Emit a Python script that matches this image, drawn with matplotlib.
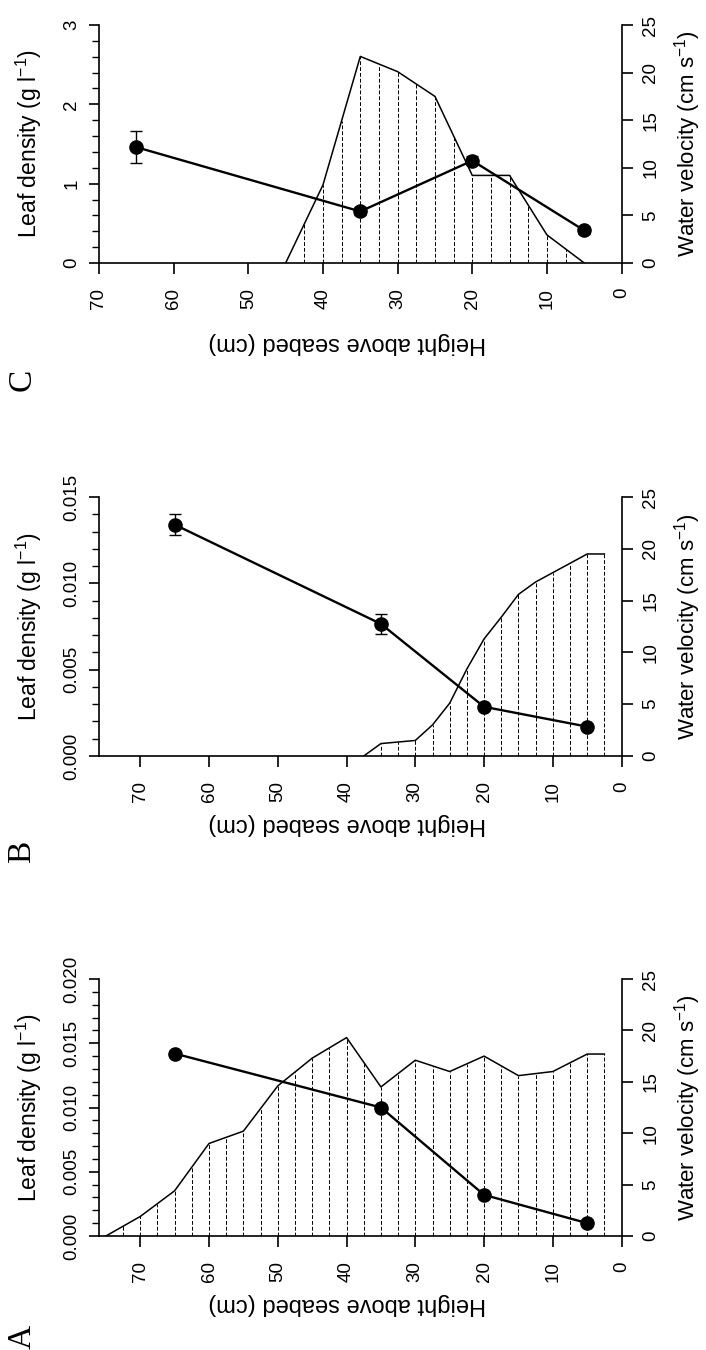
import numpy as np
import matplotlib
matplotlib.use("Agg")
import matplotlib.pyplot as plt
from matplotlib.ticker import MultipleLocator, FormatStrFormatter

plt.rcParams["font.family"] = ["Liberation Sans", "DejaVu Sans"]
plt.rcParams["mathtext.default"] = "regular"

# heights where leaf density was sampled (cm above seabed)
leaf_height = [65, 35, 20, 5]

# panel A
a_leaf = [0.0142, 0.0100, 0.0032, 0.0010]
a_leaf_err = [0.0002, 0.0002, 0.0001, 0.0001]
a_vel_height = [75, 70, 65, 60, 55, 50, 45, 40, 35, 30, 25, 20, 15, 10, 5, 2.5]
a_vel = [0, 1.9, 4.4, 9.0, 10.2, 14.6, 17.3, 19.3, 14.5, 17.1, 16.0, 17.5, 15.6, 16.0, 17.7, 17.7]

# panel B
b_leaf = [0.0134, 0.00765, 0.00285, 0.0017]
b_leaf_err = [0.0006, 0.0006, 0.0001, 0.0001]
b_vel_height = [37.5, 35, 32.5, 30, 27.5, 25, 22.5, 20, 17.5, 15, 12.5, 10, 7.5, 5, 2.5]
b_vel = [0, 1.2, 1.35, 1.5, 3.0, 5.1, 8.4, 11.3, 13.4, 15.6, 16.8, 17.7, 18.6, 19.5, 19.5]

# panel C
c_leaf = [1.46, 0.65, 1.29, 0.41]
c_leaf_err = [0.2, 0.05, 0.06, 0.04]
c_vel_height = [45, 40, 35, 30, 25, 20, 15, 10, 5]
c_vel = [0, 8.2, 21.7, 20.1, 17.5, 9.2, 9.2, 2.95, 0]

# positions of the dashed hatch lines under the velocity profile
hatch_height = np.arange(2.5, 75, 2.5)

fig = plt.figure(figsize=(7.06, 13.5), dpi=100)


def draw_panel(rect, xmax, leaf, leaf_err, leaf_top, major, minor, fmt,
               vel_h, vel, xlab_y, letter, letter_y):
    ax = fig.add_axes(rect)
    vx = ax.twinx()
    ax.set_zorder(vx.get_zorder() + 1)
    ax.patch.set_visible(False)

    # velocity profile with dashed hatching
    vx.plot(vel_h, vel, color="black", lw=1.1)
    tops = np.interp(hatch_height, vel_h[::-1], vel[::-1], left=0, right=0)
    keep = tops > 0
    vx.vlines(hatch_height[keep], 0, tops[keep], colors="black",
              linestyles=(0, (4, 2)), lw=0.7)
    vx.set_ylim(0, 25)
    vx.yaxis.set_major_locator(MultipleLocator(5))

    # leaf density
    ax.errorbar(leaf_height, leaf, yerr=leaf_err, fmt="-o", color="black",
                ms=9.5, lw=1.7, capsize=4, elinewidth=1, capthick=1)
    ax.set_xlim(xmax, 0)
    ax.set_ylim(0, leaf_top)
    ax.xaxis.set_major_locator(MultipleLocator(10))
    ax.yaxis.set_major_locator(MultipleLocator(major))
    ax.yaxis.set_minor_locator(MultipleLocator(minor))
    ax.yaxis.set_major_formatter(FormatStrFormatter(fmt))

    for s in ["top", "right"]:
        ax.spines[s].set_visible(False)
    for s in ["top", "left", "bottom"]:
        vx.spines[s].set_visible(False)
    for sp in [ax.spines["left"], ax.spines["bottom"], vx.spines["right"]]:
        sp.set_linewidth(1.2)

    ax.tick_params(axis="x", length=8, width=1.2, pad=10, labelsize=13.5, labelrotation=90)
    ax.tick_params(axis="y", which="major", length=7.5, width=1.2, pad=6,
                   labelsize=13.5, labelrotation=90)
    ax.tick_params(axis="y", which="minor", length=5, width=1.0)
    vx.tick_params(axis="y", length=8, width=1.2, pad=7, labelsize=13.5, labelrotation=90)
    for t in ax.get_yticklabels() + vx.get_yticklabels():
        t.set_verticalalignment("center")

    ax.set_xlabel("Height above seabed (cm)", fontsize=17, rotation=180)
    ax.xaxis.set_label_coords(0.475, xlab_y)
    ax.set_ylabel("Leaf density (g l$^{-1}$)", fontsize=16.5)
    ax.yaxis.set_label_coords(-0.106, 0.5)
    vx.set_ylabel("Water velocity (cm s$^{-1}$)", fontsize=16)
    vx.yaxis.set_label_coords(1.096, 0.5)

    fig.text(0.031, letter_y, letter, family="Liberation Serif", fontsize=24,
             rotation=90, ha="center", va="center")


left = 99 / 706
width = 522.6 / 706
draw_panel([left, 1 - 263 / 1350, width, 238 / 1350], 70, c_leaf, c_leaf_err, 3, 1, 0.2, "%d",
           c_vel_height, c_vel, -0.29, "C", 1 - 380 / 1350)
draw_panel([left, 1 - 756 / 1350, width, 259 / 1350], 76, b_leaf, b_leaf_err, 0.015, 0.005, 0.001, "%.3f",
           b_vel_height, b_vel, -0.22, "B", 1 - 852 / 1350)
draw_panel([left, 1 - 1236 / 1350, width, 257 / 1350], 76, a_leaf, a_leaf_err, 0.020, 0.005, 0.001, "%.3f",
           a_vel_height, a_vel, -0.222, "A", 1 - 1337 / 1350)

fig.savefig("out.png", dpi=100)
